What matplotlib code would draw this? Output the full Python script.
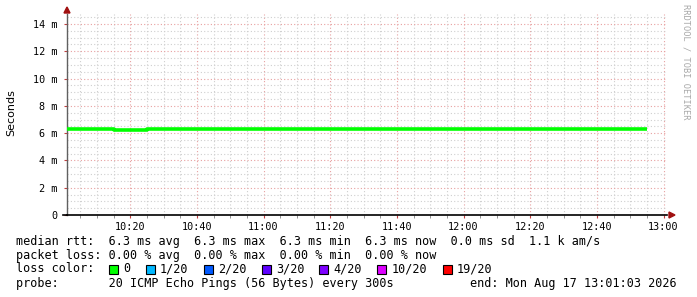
import numpy as np
import matplotlib
matplotlib.use("Agg")
import matplotlib.pyplot as plt
import matplotlib.dates as mdates
from matplotlib.patches import Rectangle
from datetime import datetime, timedelta

# median rtt, one value per 5 minute step (seconds)
step_start = datetime(2026, 8, 17, 10, 0, 0)
median_ms = [6.30, 6.30, 6.30, 6.26, 6.26, 6.30, 6.30, 6.30, 6.30, 6.30,
             6.30, 6.30, 6.30, 6.30, 6.30, 6.30, 6.30, 6.30, 6.30, 6.30,
             6.30, 6.30, 6.30, 6.30, 6.30, 6.30, 6.30, 6.30, 6.30, 6.30,
             6.30, 6.30, 6.30, 6.30, 6.30]

loss_labels = ["0", "1/20", "2/20", "3/20", "4/20", "10/20", "19/20"]
loss_colors = ["#00ff00", "#00b8ff", "#0059ff", "#5e00ff", "#7e00ff", "#dd00ff", "#ff0000"]

y_ticks = [0, 2, 4, 6, 8, 10, 12, 14]
y_tick_labels = ["0", "2 m", "4 m", "6 m", "8 m", "10 m", "12 m", "14 m"]

legend_rows = [
    "median rtt:  6.3 ms avg  6.3 ms max  6.3 ms min  6.3 ms now  0.0 ms sd  1.1 k am/s",
    "packet loss: 0.00 % avg  0.00 % max  0.00 % min  0.00 % now",
    "loss color:",
    "probe:       20 ICMP Echo Pings (56 Bytes) every 300s",
]
end_text = "end: Mon Aug 17 13:01:03 2026"

W, H = 697, 297
fig = plt.figure(figsize=(W / 100, H / 100), dpi=100)
fig.patch.set_facecolor("white")

# plot area in pixels
left, right, bottom, top = 67, 667, 215, 13.8
ax = fig.add_axes([left / W, 1 - bottom / H, (right - left) / W, (bottom - top) / H])

t_end = datetime(2026, 8, 17, 13, 1, 3)
t_start = t_end - timedelta(hours=3)

times = [step_start + timedelta(minutes=5 * i) for i in range(len(median_ms) + 1)]
vals = median_ms + [median_ms[-1]]
ax.step(times, vals, where="post", color="#00ff00", lw=2.6, solid_capstyle="butt", zorder=3)

ax.set_xlim(t_start, t_end)
ax.set_ylim(0, 14.75)

# grid: minor 5 min / 0.5 m, major 20 min / 2 m
minor_x = mdates.MinuteLocator(byminute=range(0, 60, 5))
major_x = mdates.MinuteLocator(byminute=[0, 20, 40])
ax.xaxis.set_major_locator(major_x)
ax.xaxis.set_minor_locator(minor_x)
ax.xaxis.set_major_formatter(mdates.DateFormatter("%H:%M"))
ax.set_yticks(y_ticks)
ax.set_yticklabels(y_tick_labels)
ax.set_yticks(np.arange(0, 14.6, 0.5), minor=True)

ax.grid(which="minor", color="#cfcfcf", lw=0.8, ls=(0, (1, 2)), zorder=1)
ax.grid(which="major", color="#e8a0a0", lw=0.8, ls=(0, (1, 2)), zorder=2)

for s in ["top", "right"]:
    ax.spines[s].set_visible(False)
ax.spines["left"].set_color("#606060")
ax.spines["bottom"].set_color("black")
ax.spines["left"].set_linewidth(1.0)
ax.spines["bottom"].set_linewidth(1.2)

mono = "DejaVu Sans Mono"
ax.tick_params(axis="both", which="both", labelsize=7.3, colors="black")
ax.tick_params(axis="x", which="major", length=2, pad=3, color="#c04040")
ax.tick_params(axis="x", which="minor", length=2, color="#808080")
ax.tick_params(axis="y", which="major", length=2, pad=5, color="#c04040")
ax.tick_params(axis="y", which="minor", length=0)
for lab in ax.get_xticklabels() + ax.get_yticklabels():
    lab.set_family(mono)

# x axis stub left of the y axis
fig.add_artist(plt.Line2D([63 / W, 67 / W], [1 - 215 / H, 1 - 215 / H], color="black", lw=1.2))

# axis arrows
fig.patches.append(matplotlib.patches.Polygon(
    [(64 / W, 1 - 13 / H), (70 / W, 1 - 13 / H), (67 / W, 1 - 7 / H)],
    closed=True, color="#a01010", transform=fig.transFigure))
fig.patches.append(matplotlib.patches.Polygon(
    [(669 / W, 1 - 212 / H), (669 / W, 1 - 218 / H), (675 / W, 1 - 215 / H)],
    closed=True, color="#a01010", transform=fig.transFigure))

fig.text(11 / W, 1 - 113 / H, "Seconds", rotation=90, ha="center", va="center",
         fontsize=8, family="DejaVu Sans")
fig.text(686 / W, 1 - 4 / H, "RRDTOOL / TOBI OETIKER", rotation=-90, ha="center", va="top",
         fontsize=6.2, family=mono, color="#a8a8a8")

# legend text rows
row_y = [241, 255, 269, 283]
for txt, y in zip(legend_rows, row_y):
    fig.text(16 / W, 1 - y / H, txt, ha="left", va="center", fontsize=8.45, family=mono)
fig.text(677 / W, 1 - 283 / H, end_text, ha="right", va="center", fontsize=8.45, family=mono)

sq_x = [108.5, 146, 204, 261.5, 319, 377, 442.5]
txt_x = [123, 160, 218, 276, 333.5, 391.5, 457]
for sx, tx, lab, col in zip(sq_x, txt_x, loss_labels, loss_colors):
    fig.patches.append(Rectangle((sx / W, 1 - 273.5 / H), 9 / W, 9 / H, facecolor=col,
                                 edgecolor="black", lw=0.8, transform=fig.transFigure))
    fig.text(tx / W, 1 - 269 / H, lab, ha="left", va="center", fontsize=8.45, family=mono)

fig.savefig("out.png", dpi=100, facecolor="white")
